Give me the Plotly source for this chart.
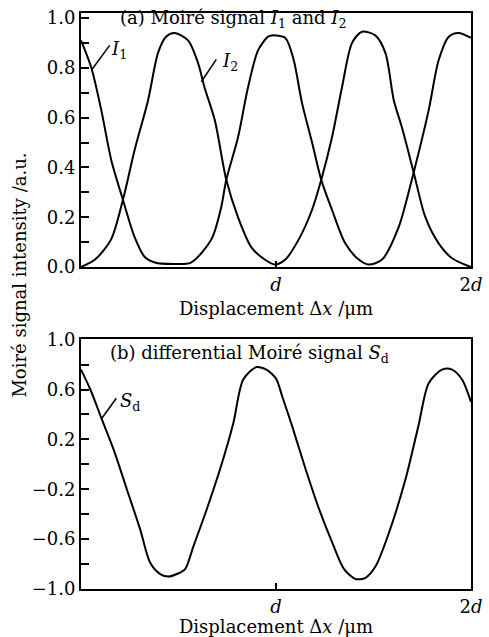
import plotly.graph_objects as go

# ---------------- data (x in units of d) ----------------
i1_x = [0.000, 0.053, 0.104, 0.155, 0.215, 0.275, 0.327, 0.379, 0.472, 0.564,
        0.668, 0.719, 0.745, 0.805, 0.856, 0.908, 0.959, 0.979, 1.048, 1.091,
        1.133, 1.185, 1.232, 1.287, 1.355, 1.424, 1.475, 1.544, 1.629, 1.706,
        1.783, 1.834, 1.886, 1.937, 2.000]
i1_y = [0.91, 0.80, 0.63, 0.43, 0.27, 0.12, 0.04, 0.018, 0.012, 0.018,
        0.11, 0.24, 0.35, 0.52, 0.72, 0.87, 0.925, 0.93, 0.92, 0.83,
        0.66, 0.50, 0.35, 0.23, 0.095, 0.03, 0.01, 0.03, 0.16, 0.38,
        0.63, 0.83, 0.925, 0.94, 0.92]

i2_x = [0.000, 0.072, 0.154, 0.215, 0.275, 0.344, 0.395, 0.436, 0.481, 0.549,
        0.600, 0.634, 0.686, 0.745, 0.805, 0.873, 0.942, 0.993, 1.048, 1.116,
        1.185, 1.232, 1.287, 1.338, 1.390, 1.441, 1.509, 1.561, 1.604, 1.646,
        1.706, 1.766, 1.834, 1.903, 2.000]
i2_y = [0.00, 0.03, 0.11, 0.27, 0.47, 0.67, 0.86, 0.925, 0.94, 0.91,
        0.82, 0.72, 0.59, 0.35, 0.20, 0.08, 0.03, 0.01, 0.03, 0.11,
        0.23, 0.35, 0.52, 0.72, 0.90, 0.945, 0.93, 0.86, 0.67, 0.56,
        0.38, 0.20, 0.095, 0.035, 0.00]

sd_x = [0.000, 0.048, 0.107, 0.167, 0.235, 0.303, 0.355, 0.406, 0.449, 0.491,
        0.534, 0.576, 0.645, 0.713, 0.781, 0.832, 0.900, 0.951, 0.982, 1.003,
        1.033, 1.084, 1.152, 1.221, 1.289, 1.349, 1.408, 1.459, 1.510, 1.579,
        1.664, 1.732, 1.783, 1.852, 1.903, 1.954, 2.000]
sd_y = [0.76, 0.60, 0.36, 0.12, -0.20, -0.52, -0.79, -0.88, -0.90, -0.88,
        -0.84, -0.66, -0.36, -0.04, 0.33, 0.68, 0.78, 0.76, 0.72, 0.68,
        0.54, 0.30, -0.04, -0.36, -0.63, -0.84, -0.92, -0.91, -0.82, -0.55,
        -0.12, 0.32, 0.65, 0.76, 0.76, 0.68, 0.50]

# label leader lines: [curve point, label end]
lead_i1_x = [0.053, 0.147]
lead_i1_y = [0.79, 0.89]
lead_i2_x = [0.617, 0.694]
lead_i2_y = [0.744, 0.834]
lead_sd_x = [0.107, 0.181]
lead_sd_y = [0.37, 0.53]

x_tickvals = [1, 2]
x_ticktext = ["<i>d</i>", "2<i>d</i>"]
top_tickvals = [0.0, 0.2, 0.4, 0.6, 0.8, 1.0]
top_minor = [0.1, 0.3, 0.5, 0.7, 0.9]
bot_tickvals = [-1.0, -0.6, -0.2, 0.2, 0.6, 1.0]
bot_minor = [-0.8, -0.4, 0.0, 0.4, 0.8]

FONT = "DejaVu Serif"
FS = 18

fig = go.Figure()
line = dict(color="black", width=2, shape="spline", smoothing=0.8)
fig.add_trace(go.Scatter(x=i1_x, y=i1_y, mode="lines", line=line, xaxis="x", yaxis="y", showlegend=False))
fig.add_trace(go.Scatter(x=i2_x, y=i2_y, mode="lines", line=line, xaxis="x", yaxis="y", showlegend=False))
fig.add_trace(go.Scatter(x=sd_x, y=sd_y, mode="lines", line=line, xaxis="x2", yaxis="y2", showlegend=False))
lead = dict(color="black", width=1.5)
fig.add_trace(go.Scatter(x=lead_i1_x, y=lead_i1_y, mode="lines", line=lead, xaxis="x", yaxis="y", showlegend=False))
fig.add_trace(go.Scatter(x=lead_i2_x, y=lead_i2_y, mode="lines", line=lead, xaxis="x", yaxis="y", showlegend=False))
fig.add_trace(go.Scatter(x=lead_sd_x, y=lead_sd_y, mode="lines", line=lead, xaxis="x2", yaxis="y2", showlegend=False))


def xaxis_cfg(standoff):
    return dict(range=[0, 2], showline=True, linecolor="black", linewidth=2, mirror=True,
                showgrid=False, zeroline=False, ticks="inside", ticklen=6, tickwidth=2,
                tickcolor="black", tickvals=x_tickvals, ticktext=x_ticktext, automargin=False,
                tickfont=dict(family=FONT, size=FS, color="black"),
                title=dict(text="Displacement Δ<i>x</i> /μm",
                           font=dict(family=FONT, size=FS, color="black"), standoff=standoff))


ycommon = dict(showline=True, linecolor="black", linewidth=2, mirror=True,
               showgrid=False, zeroline=False, ticks="inside", ticklen=8, tickwidth=2,
               tickcolor="black", tickformat=".1f", automargin=False,
               tickfont=dict(family=FONT, size=FS, color="black"))

fig.update_layout(
    width=489, height=637,
    margin=dict(l=81, r=18, t=13, b=48),
    paper_bgcolor="white", plot_bgcolor="white",
    font=dict(family=FONT, size=FS, color="black"),
    xaxis=dict(domain=[0, 1], anchor="y", **xaxis_cfg(9)),
    yaxis=dict(domain=[0.559, 1.0], anchor="x", range=[0, 1.02], tickmode="array",
               tickvals=top_tickvals,
               minor=dict(tickvals=top_minor, ticks="inside", ticklen=8, tickwidth=2, tickcolor="black"),
               **ycommon),
    xaxis2=dict(domain=[0, 1], anchor="y2", **xaxis_cfg(3)),
    yaxis2=dict(domain=[0.0, 0.434], anchor="x2", range=[-1.0, 1.005], tickmode="array",
                tickvals=bot_tickvals,
                minor=dict(tickvals=bot_minor, ticks="inside", ticklen=8, tickwidth=2, tickcolor="black"),
                **ycommon),
)

ann = []
# panel titles
ann.append(dict(xref="x domain", yref="y domain", x=0.39, y=0.975, xanchor="center", yanchor="middle",
                text="(a) Moiré signal <i>I</i><sub>1</sub> and <i>I</i><sub>2</sub>", showarrow=False))
ann.append(dict(xref="x2 domain", yref="y2 domain", x=0.432, y=0.94, xanchor="center", yanchor="middle",
                text="(b) differential Moiré signal <i>S</i><sub>d</sub>", showarrow=False))
# curve labels
ann.append(dict(xref="x", yref="y", x=0.197, y=0.87, text="<i>I</i><sub>1</sub>", showarrow=False))
ann.append(dict(xref="x", yref="y", x=0.762, y=0.825, text="<i>I</i><sub>2</sub>", showarrow=False))
ann.append(dict(xref="x2", yref="y2", x=0.252, y=0.50, text="<i>S</i><sub>d</sub>", showarrow=False))
# shared y title
ann.append(dict(xref="paper", yref="paper", x=-0.16, y=(637 - 48 - 275) / 576,
                xanchor="center", yanchor="middle", textangle=-90,
                text="Moiré signal intensity /a.u.", showarrow=False))
fig.update_layout(annotations=ann)

fig.write_html("out.html")
